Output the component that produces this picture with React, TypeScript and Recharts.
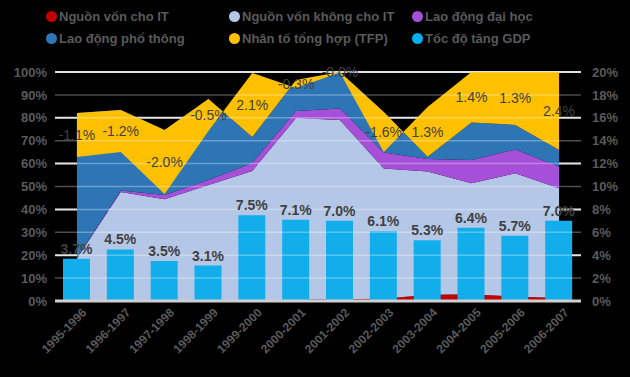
import React from "react"
import {
  ComposedChart,
  Area,
  Bar,
  Line,
  XAxis,
  YAxis,
  CartesianGrid,
  ReferenceLine,
  LabelList,
} from "recharts"

// categories (x axis)
const periods = [
  "1995-1996",
  "1996-1997",
  "1997-1998",
  "1998-1999",
  "1999-2000",
  "2000-2001",
  "2001-2002",
  "2002-2003",
  "2003-2004",
  "2004-2005",
  "2005-2006",
  "2006-2007",
]

// contribution shares (%), left axis
const itCapital = [0, 0, 0, 0, 0.1, 0.5, 0.8, 1.0, 2.7, 3.0, 2.0, 1.3]
const nonItCapital = [18.5, 47.6, 44.4, 50.7, 56.7, 79.4, 78.2, 56.9, 53.8, 48.4, 53.8, 47.9]
const collegeLabor = [0.3, 0.6, 1.9, 2.1, 3.5, 3.1, 5.1, 6.9, 5.5, 10.2, 10.4, 9.4]
const basicLabor = [63.3, 35.2, 28.4, 35.4, 11.3, 13.5, 15.9, 17.7, 1.0, 16.3, 10.7, 7.3]
const tfpShare = [-19.2, -18.3, -28.0, -14.0, 28.0, -3.5, -0.2, -17.4, 21.7, 22.1, 23.1, 34.1]

// TFP growth labels shown on the gold area
const tfpLabels = ["-1.1%", "-1.2%", "-2.0%", "-0.5%", "2.1%", "-0.3%", "-0.0%", "-1.6%", "1.3%", "1.4%", "1.3%", "2.4%"]

// GDP growth (%), right axis
const gdpGrowth = [3.7, 4.5, 3.5, 3.1, 7.5, 7.1, 7.0, 6.1, 5.3, 6.4, 5.7, 7.0]

const leftTicks = [0, 10, 20, 30, 40, 50, 60, 70, 80, 90, 100]
const rightTicks = [0, 2, 4, 6, 8, 10, 12, 14, 16, 18, 20]

const COLORS = {
  it: "#C00000",
  nonIt: "#B4C7E7",
  college: "#A64FD9",
  basic: "#2E75B6",
  tfp: "#FFC000",
  gdp: "#12AEEC",
}

const legendItems = [
  { name: "Nguồn vốn cho IT", color: COLORS.it },
  { name: "Nguồn vốn không cho IT", color: COLORS.nonIt },
  { name: "Lao động đại học", color: COLORS.college },
  { name: "Lao động phổ thông", color: COLORS.basic },
  { name: "Nhân tố tổng hợp (TFP)", color: COLORS.tfp },
  { name: "Tốc độ tăng GDP", color: "#00B0F0" },
]

const data = periods.map((period, i) => ({
  period,
  it: itCapital[i],
  nonIt: nonItCapital[i],
  college: collegeLabor[i],
  basic: basicLabor[i],
  tfp: tfpShare[i],
  // middle of the TFP band, used to place its label
  tfpMid: itCapital[i] + nonItCapital[i] + collegeLabor[i] + basicLabor[i] + tfpShare[i] / 2,
  gdp: gdpGrowth[i],
}))

const FONT = "'Liberation Sans', Arial, sans-serif"
const axisTick = { fill: "#5a5a5a", fontSize: 13, fontWeight: 700, fontFamily: FONT }

function PeriodTick(props: any) {
  const { x, y, payload } = props
  return (
    <g transform={`translate(${x + 4},${y})`}>
      <text
        transform="rotate(-45)"
        textAnchor="end"
        dy={9}
        fill="#5a5a5a"
        fontSize={12}
        fontWeight={700}
        fontFamily={FONT}
      >
        {payload.value}
      </text>
    </g>
  )
}

function TfpLabel(props: any) {
  const { x, y, index } = props
  return (
    <text x={x} y={y} dy={5} textAnchor="middle" fill="#404040" fontSize={14} fontFamily={FONT}>
      {tfpLabels[index]}
    </text>
  )
}

export default function App() {
  return (
    <div style={{ position: "absolute", left: 0, top: 0, width: 630, height: 377, background: "#000" }}>
      <div
        style={{
          position: "absolute",
          left: 46,
          top: 8,
          width: 560,
          display: "grid",
          gridTemplateColumns: "183px 183px 183px",
          rowGap: 6,
          fontFamily: FONT,
          fontSize: 13,
          fontWeight: 700,
          color: "#5a5a5a",
        }}
      >
        {legendItems.map((item) => (
          <div key={item.name} style={{ display: "flex", alignItems: "center", height: 16 }}>
            <span
              style={{
                width: 11,
                height: 11,
                borderRadius: "50%",
                background: item.color,
                marginRight: 2,
                flex: "none",
              }}
            />
            <span>{item.name}</span>
          </div>
        ))}
      </div>
      <ComposedChart
        width={630}
        height={377}
        data={data}
        margin={{ top: 72, right: 0, left: 0, bottom: 0 }}
        barGap={0}
      >
        <CartesianGrid
          yAxisId="left"
          vertical={false}
          stroke="#d9d9d9"
          strokeWidth={2}
        />
        <XAxis
          dataKey="period"
          interval={0}
          height={76}
          tickLine={false}
          tickSize={0}
          tickMargin={6}
          axisLine={{ stroke: "#cfcfcf", strokeWidth: 3 }}
          tick={<PeriodTick />}
        />
        <YAxis
          yAxisId="left"
          width={55}
          domain={[0, 100]}
          ticks={leftTicks}
          allowDataOverflow
          axisLine={false}
          tickLine={false}
          tickSize={0}
          tickMargin={8}
          tick={axisTick}
          tickFormatter={(v) => `${v}%`}
        />
        <YAxis
          yAxisId="right"
          orientation="right"
          width={49}
          domain={[0, 20]}
          ticks={rightTicks}
          axisLine={false}
          tickLine={false}
          tickSize={0}
          tickMargin={11}
          tick={axisTick}
          tickFormatter={(v) => `${v}%`}
        />
        <Area yAxisId="left" stackId="s" type="linear" dataKey="it" stroke="none" fill={COLORS.it} fillOpacity={1} isAnimationActive={false} />
        <Area yAxisId="left" stackId="s" type="linear" dataKey="nonIt" stroke="none" fill={COLORS.nonIt} fillOpacity={1} isAnimationActive={false} />
        <Area yAxisId="left" stackId="s" type="linear" dataKey="college" stroke="none" fill={COLORS.college} fillOpacity={1} isAnimationActive={false} />
        <Area yAxisId="left" stackId="s" type="linear" dataKey="basic" stroke="none" fill={COLORS.basic} fillOpacity={1} isAnimationActive={false} />
        <Area yAxisId="left" stackId="s" type="linear" dataKey="tfp" stroke="none" fill={COLORS.tfp} fillOpacity={1} isAnimationActive={false} />
        <Bar yAxisId="right" dataKey="gdp" barSize={27} fill={COLORS.gdp} isAnimationActive={false}>
          <LabelList
            dataKey="gdp"
            position="top"
            fill="#404040"
            fontSize={14}
            fontWeight={700}
            fontFamily={FONT}
            formatter={(v: any) => `${Number(v).toFixed(1)}%`}
          />
        </Bar>
        {leftTicks.slice(1).map((t) => (
          <ReferenceLine key={t} yAxisId="left" y={t} stroke="#ffffff" strokeOpacity={0.3} strokeWidth={1.5} />
        ))}
        <Line
          yAxisId="left"
          dataKey="tfpMid"
          stroke="none"
          dot={false}
          activeDot={false}
          isAnimationActive={false}
          label={<TfpLabel />}
        />
      </ComposedChart>
    </div>
  )
}
